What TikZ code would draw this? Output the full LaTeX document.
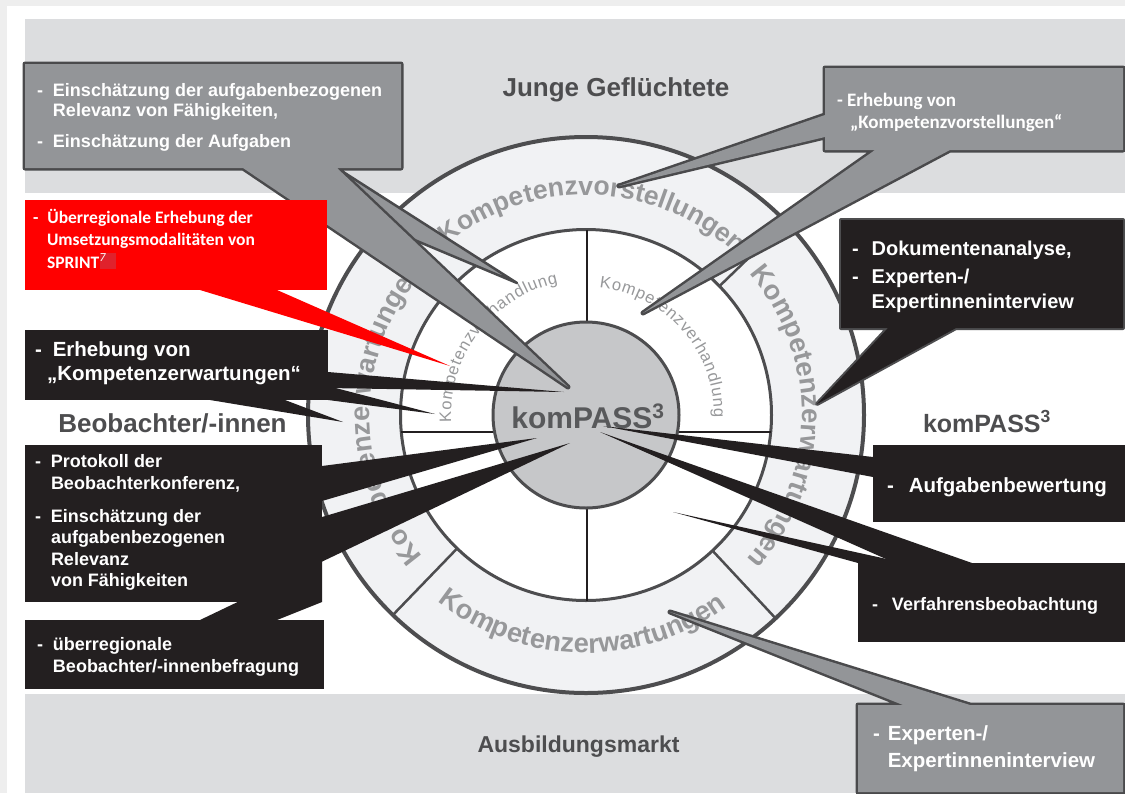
\documentclass[tikz,border=0pt]{standalone}
\usepackage{fontspec}
\setmainfont{Liberation Sans}
\newfontfamily\calfont{Carlito}
\usetikzlibrary{decorations.text}
\definecolor{frame}{HTML}{EEEEEE}
\definecolor{band}{HTML}{DCDDDF}
\definecolor{ringfill}{HTML}{F1F2F4}
\definecolor{ringline}{HTML}{4D4D4F}
\definecolor{corefill}{HTML}{C6C7C9}
\definecolor{cgrey}{HTML}{939598}
\definecolor{cborder}{HTML}{4A4A4C}
\definecolor{cblack}{HTML}{231F20}
\definecolor{ringtxt}{HTML}{97989A}
\definecolor{titletxt}{HTML}{4D4D4F}
\definecolor{coretxt}{HTML}{58595B}
\definecolor{redbox}{HTML}{FF0000}
\definecolor{redmark}{HTML}{E0222C}
\newcommand\fs[2]{\fontsize{#1}{#2}\selectfont}
\newcommand\ringA{\bfseries\fs{26.5}{26.5}}
\newcommand\ringB{\bfseries\fs{27.3}{27.3}}
\newcommand\ringC{\fs{16.5}{16.5}}
\begin{document}
\begin{tikzpicture}[x=1pt,y=-1pt,
  wt/.style={text=white, inner sep=0pt, outer sep=0pt, anchor=base west, align=left},
  ttl/.style={text=titletxt, inner sep=0pt, outer sep=0pt, anchor=base},
  gline/.style={draw=cborder, line width=5pt, line join=round},
  gfill/.style={fill=cgrey},
  ringtext/.style={decorate, decoration={text along path, text color=ringtxt, text align=center, text={#1}}},
  innertext/.style={decorate, decoration={text along path, text color=ringtxt, text align={fit to path}, text={#1}}},
  disc/.style={circle, inner sep=0pt, outer sep=0pt}
]
\useasboundingbox (0,0) rectangle (1125,793);
\fill[frame] (0,0) rectangle (1125,793);
\fill[white] (7,6) rectangle (1125,793);
\fill[band] (25,19) rectangle (1125,193);
\fill[band] (25,694) rectangle (1125,793);

% ---- rings ----
\begin{scope}[shift={(586,415)}, y=1pt]
  \coordinate (ctr) at (0,0);
  \node[disc, minimum size=556pt, fill=ringfill, draw=ringline, line width=4pt] (outer) at (ctr) {};
  \node[disc, minimum size=371pt, fill=white, draw=ringline, line width=3pt] (mid) at (ctr) {};
  \foreach \a in {44,-47,-134} \draw[ringline, line width=2.5pt] (\a:185.5) -- (\a:278);
  \draw[cblack, line width=2.5pt] (1,185.5) -- (1,-185.5);
  \draw[cblack, line width=2.5pt] (-184.7,-17) -- (184.7,-17);
  \node[disc, minimum size=186pt, fill=corefill, draw=ringline, line width=3pt] (core) at (ctr) {};
  \path[ringtext={|\ringA|Kompetenzvorstellungen}] (131:220) arc[start angle=131, end angle=45, radius=220];
  \path[ringtext={|\ringB|Kompetenzerwartungen}] (42:216) arc[start angle=42, end angle=-43, radius=216];
  \path[ringtext={|\ringB|Kompetenzerwartungen}] (-133:238) arc[start angle=-133, end angle=-49, radius=238];
  \path[ringtext={|\ringB|Kompetenzerwartungen}] (223:216) arc[start angle=223, end angle=136, radius=216];
  \path[innertext={|\ringC|Kompetenzverhandlung}] (84:128) arc[start angle=84, end angle=-1, radius=128];
  \path[innertext={|\ringC|Kompetenzverhandlung}] (183:135) arc[start angle=183, end angle=102, radius=135];
\end{scope}

% ---- top-right grey callout ----
\coordinate (tr1) at (825,68); \coordinate (tr2) at (1123,150);
\coordinate (trb1) at (875,150); \coordinate (trb2) at (950,150); \coordinate (trA) at (643,313);
\coordinate (trc1) at (825,115); \coordinate (trc2) at (825,137); \coordinate (trB) at (619,186);
\path[gline] (tr1) rectangle (tr2) (trb1) -- (trA) -- (trb2) -- cycle (trc1) -- (trB) -- (trc2) -- cycle;
\path[gfill] (tr1) rectangle (tr2) (trb1) -- (trA) -- (trb2) -- cycle (trc1) -- (trB) -- (trc2) -- cycle;

% ---- top-left grey callout ----
\coordinate (tl1) at (25,64); \coordinate (tl2) at (401,168);
\coordinate (tlb1) at (243,168); \coordinate (tlb2) at (337,168);
\coordinate (tlA) at (568,387); \coordinate (tlB) at (517,283);
\filldraw[fill=cgrey, draw=cborder, line width=2.5pt, line join=round] (tlb1) -- (tlB) -- (tlb2) -- cycle;
\path[gline] (tl1) rectangle (tl2) (tlb1) -- (tlA) -- (tlb2) -- cycle;
\path[gfill] (tl1) rectangle (tl2) (tlb1) -- (tlA) -- (tlb2) -- cycle;

% ---- red callout ----
\coordinate (r1) at (25,200); \coordinate (r2) at (327,290);
\coordinate (rb1) at (200,290); \coordinate (rb2) at (277,290); \coordinate (rA) at (450,366);
\fill[redbox] (r1) rectangle (r2);
\fill[redbox] (rb1) -- (rA) -- (rb2) -- cycle;
\coordinate (rm1) at (100,253); \coordinate (rm2) at (116,269);
\fill[redmark] (rm1) rectangle (rm2);

% ---- black callout 1 ----
\coordinate (k1) at (25,330); \coordinate (k2) at (328,400);
\coordinate (ka1) at (328,372); \coordinate (ka2) at (328,388); \coordinate (kA) at (564,392);
\coordinate (kb1) at (328,386); \coordinate (kb2) at (328,400); \coordinate (kB) at (435,414);
\coordinate (kc1) at (210,400); \coordinate (kc2) at (285,400); \coordinate (kC) at (343,422);
\fill[cblack] (k1) rectangle (k2);
\fill[cblack] (ka1) -- (kA) -- (ka2) -- cycle;
\fill[cblack] (kb1) -- (kB) -- (kb2) -- cycle;
\fill[cblack] (kc1) -- (kC) -- (kc2) -- cycle;

% ---- black callouts 2 and 3 ----
\coordinate (p1) at (25,445); \coordinate (p2) at (322,602);
\coordinate (pd1) at (322,466); \coordinate (pd2) at (322,501); \coordinate (pD) at (537,438);
\coordinate (q1) at (25,620); \coordinate (q2) at (324,689);
\coordinate (pe1) at (200,620); \coordinate (pE) at (570,443); \coordinate (pe2) at (322,517);
\coordinate (pe3) at (322,602); \coordinate (pe4) at (277,620);
\fill[cblack] (p1) rectangle (p2);
\fill[cblack] (pd1) -- (pD) -- (pd2) -- cycle;
\fill[cblack] (q1) rectangle (q2);
\fill[cblack] (pe1) -- (pE) -- (pe2) -- (pe3) -- (pe4) -- cycle;

% ---- Dokumentenanalyse ----
\coordinate (d1) at (841,220); \coordinate (d2) at (1123,328);
\coordinate (db1) at (888,328); \coordinate (db2) at (956,328); \coordinate (dA) at (817,404);
\path[draw=ringline, line width=4pt, line join=round] (d1) rectangle (d2) (db1) -- (dA) -- (db2) -- cycle;
\fill[cblack] (d1) rectangle (d2) (db1) -- (dA) -- (db2) -- cycle;

% ---- Aufgabenbewertung ----
\coordinate (a1) at (873,445); \coordinate (a2) at (1125,522);
\coordinate (ab1) at (873,457); \coordinate (ab2) at (873,477); \coordinate (aA) at (603,426);
\fill[cblack] (a1) rectangle (a2);
\fill[cblack] (ab1) -- (aA) -- (ab2) -- cycle;

% ---- Verfahrensbeobachtung ----
\coordinate (v1) at (858,563); \coordinate (v2) at (1125,642);
\coordinate (vb1) at (895,563); \coordinate (vb2) at (972,563); \coordinate (vA) at (600,432);
\coordinate (vc2) at (905,563); \coordinate (vB) at (673,512);
\fill[cblack] (v1) rectangle (v2);
\fill[cblack] (vb1) -- (vA) -- (vb2) -- cycle;
\fill[cblack] (v1) -- (vB) -- (vc2) -- cycle;

% ---- bottom-right grey callout ----
\coordinate (g1) at (858,705); \coordinate (g2) at (1123,792);
\coordinate (gb1) at (903,705); \coordinate (gb2) at (970,705); \coordinate (gA) at (670,612);
\path[gline] (g1) rectangle (g2) (gb1) -- (gA) -- (gb2) -- cycle;
\path[gfill] (g1) rectangle (g2) (gb1) -- (gA) -- (gb2) -- cycle;

% ---- callout texts (anchored at the baseline of the last line) ----
\node[wt, font=\bfseries\fs{18}{19.5}] (tltext) at (37,147)
  {-\hspace{10pt}Einschätzung der aufgabenbezogenen\\\hspace*{16pt}Relevanz von Fähigkeiten,\\[11.5pt]-\hspace{10pt}Einschätzung der Aufgaben};
\node[wt, font=\calfont\bfseries\fs{19}{22}] (trtext) at (837,128)
  {- Erhebung von\\\hspace*{13pt}„Kompetenzvorstellungen“};
\node[wt, font=\calfont\bfseries\fs{17.5}{22.5}] (redtext) at (33,268)
  {-\hspace{9pt}Überregionale Erhebung der\\\hspace*{14pt}Umsetzungsmodalitäten von\\\hspace*{14pt}SPRINT\textsuperscript{\mdseries\itshape 7}};
\node[wt, font=\bfseries\fs{20.5}{24}] (k1text) at (35,380)
  {-\hspace{11pt}Erhebung von\\\hspace*{12pt}„Kompetenzerwartungen“};
\node[wt, font=\bfseries\fs{18}{21.5}] (p1text) at (35,586.5)
  {-\hspace{10pt}Protokoll der\\\hspace*{16pt}Beobachterkonferenz,\\[11.5pt]-\hspace{10pt}Einschätzung der\\\hspace*{16pt}aufgabenbezogenen\\\hspace*{16pt}Relevanz\\\hspace*{16pt}von Fähigkeiten};
\node[wt, font=\bfseries\fs{18}{22}] (q1text) at (37,672)
  {-\hspace{10pt}überregionale\\\hspace*{16pt}Beobachter/-innenbefragung};
\node[wt, font=\bfseries\fs{20}{25}] (dtext) at (852,308)
  {-\hspace{13pt}Dokumentenanalyse,\\[3pt]-\hspace{13pt}Experten-/\\\hspace*{19.7pt}Expertinneninterview};
\node[wt, font=\bfseries\fs{20.5}{24}] (atext) at (887,492) {-\hspace{15pt}Aufgabenbewertung};
\node[wt, font=\bfseries\fs{18}{22}] (vtext) at (872,610) {-\hspace{14pt}Verfahrensbeobachtung};
\node[wt, font=\bfseries\fs{20.5}{27}] (gtext) at (873,767)
  {-\hspace{8pt}Experten-/\\\hspace*{14.8pt}Expertinneninterview};

% ---- titles ----
\node[ttl, font=\bfseries\fs{26}{26}] (junge) at (616,96) {Junge Geflüchtete};
\node[ttl, font=\bfseries\fs{26}{26}] (beob) at (172.5,432) {Beobachter/-innen};
\node[ttl, font=\bfseries\fs{25}{25}, anchor=base west] (kompr) at (923,432) {komPASS\textsuperscript{3}};
\node[ttl, font=\bfseries\fs{23}{23}] (ausb) at (578.5,752) {Ausbildungsmarkt};
\node[ttl, text=coretxt, font=\bfseries\fs{30}{30}] (kompc) at (588,428) {komPASS\textsuperscript{3}};
\end{tikzpicture}
\end{document}
